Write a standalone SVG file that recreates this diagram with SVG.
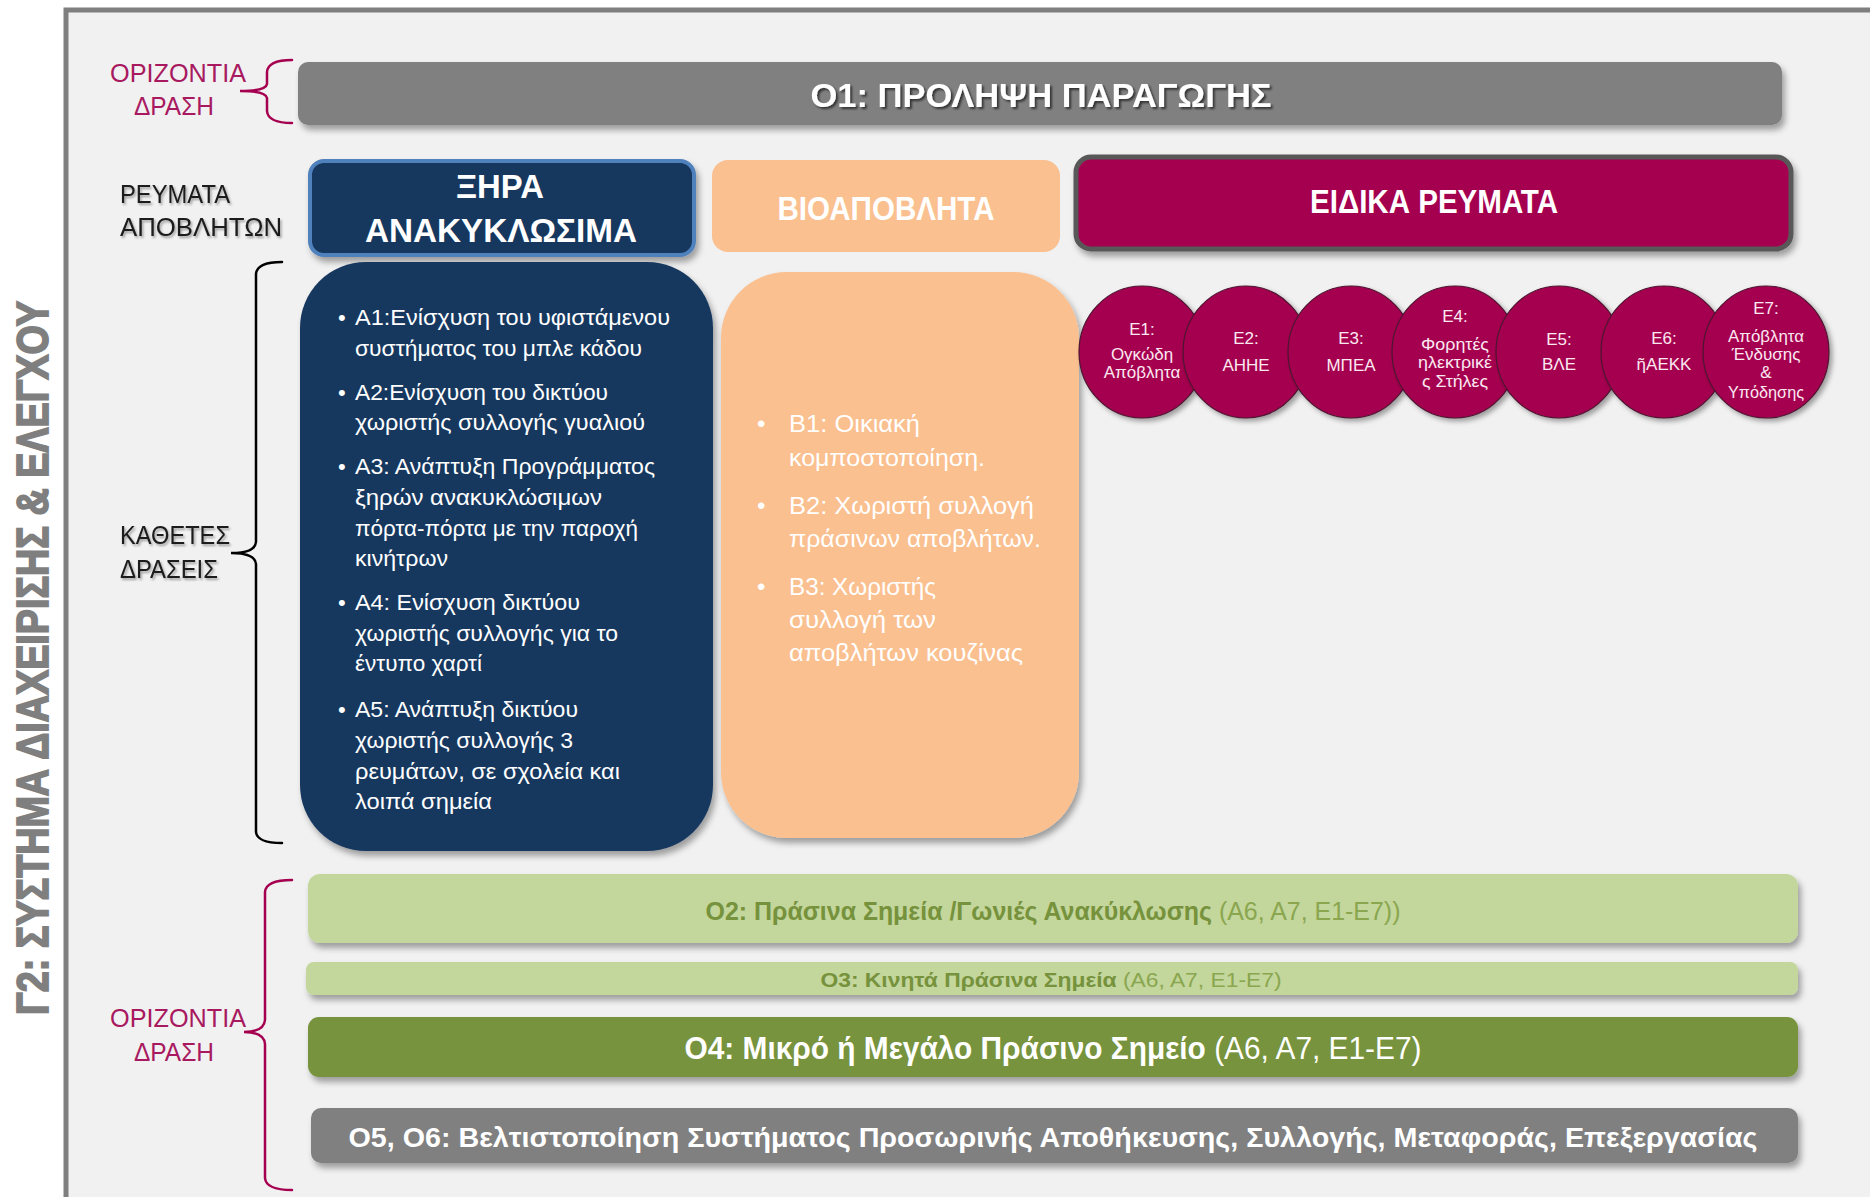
<svg xmlns="http://www.w3.org/2000/svg" width="1870" height="1197" viewBox="0 0 1870 1197">
<defs>
<filter id="sh" x="-10%" y="-20%" width="130%" height="160%">
<feDropShadow dx="3" dy="5" stdDeviation="3" flood-color="#000" flood-opacity="0.35"/>
</filter>
<filter id="csh" x="-20%" y="-20%" width="150%" height="150%">
<feDropShadow dx="3" dy="3" stdDeviation="2.5" flood-color="#000" flood-opacity="0.35"/>
</filter>
<filter id="ts" x="-5%" y="-30%" width="110%" height="170%">
<feDropShadow dx="2" dy="2" stdDeviation="1" flood-color="#000" flood-opacity="0.6"/>
</filter>
<filter id="ls" x="-5%" y="-30%" width="110%" height="170%">
<feDropShadow dx="1.5" dy="2" stdDeviation="1.2" flood-color="#000" flood-opacity="0.35"/>
</filter>
</defs>
<style>
text{font-family:"Liberation Sans",Arial,sans-serif;}
.lbl{font-size:26px;fill:#1a1a1a;}
.pink{font-size:26px;fill:#a8195f;}
.hdr{font-size:34px;font-weight:bold;fill:#ffffff;text-anchor:middle;}
.bul{font-size:22px;fill:#ffffff;}
.bb{font-size:24px;fill:#ffffff;}
.ct{font-size:17px;fill:#fbe9f1;text-anchor:middle;}
.circ{fill:#a50050;stroke:#4d1530;stroke-width:1.2;}
.bar{text-anchor:middle;font-weight:bold;}
.nb{font-weight:normal;}
.brace{fill:none;stroke-width:2.5;stroke-linecap:round;}
</style>

<rect x="0" y="0" width="1870" height="1197" fill="#ffffff"/>
<g id="frame">
<rect x="66" y="10" width="1820" height="1210" fill="#f1f1f1" stroke="#7f7f7f" stroke-width="5"/>
</g>

<g id="title-vertical">
<text transform="translate(48,658) rotate(-90)" text-anchor="middle" font-size="45" font-weight="bold" fill="#7f7f7f" stroke="#7f7f7f" stroke-width="1.8" textLength="714" lengthAdjust="spacingAndGlyphs">Γ2: ΣΥΣΤΗΜΑ ΔΙΑΧΕΙΡΙΣΗΣ &amp; ΕΛΕΓΧΟΥ</text>
</g>

<g id="connectors">
<path class="brace" stroke="#a50050" d="M292,60 Q268,60 267,72 L267,84 Q266,91 240,91 Q266,91 267,98 L267,111 Q268,123 292,123"/>
<path class="brace" stroke="#000000" d="M282,262 Q257,262 256,274 L256,542 Q255,553 231,553 Q255,553 256,564 L256,832 Q257,843 282,843"/>
<path class="brace" stroke="#a50050" d="M292,880 Q266,880 265,892 L265,1020 Q264,1032 244,1032 Q264,1032 265,1044 L265,1178 Q266,1190 292,1190"/>
</g>

<g id="label-horizontal-top">
<text class="pink" x="110" y="82" textLength="136" lengthAdjust="spacingAndGlyphs">ΟΡΙΖΟΝΤΙΑ</text>
<text class="pink" x="134" y="115" textLength="80" lengthAdjust="spacingAndGlyphs">ΔΡΑΣΗ</text>
</g>
<g id="label-streams" filter="url(#ls)">
<text class="lbl" x="120" y="203" textLength="110" lengthAdjust="spacingAndGlyphs">ΡΕΥΜΑΤΑ</text>
<text class="lbl" x="120" y="236" textLength="162" lengthAdjust="spacingAndGlyphs">ΑΠΟΒΛΗΤΩΝ</text>
</g>
<g id="label-vertical" filter="url(#ls)">
<text class="lbl" x="120" y="544" textLength="110" lengthAdjust="spacingAndGlyphs">ΚΑΘΕΤΕΣ</text>
<text class="lbl" x="120" y="578" textLength="98" lengthAdjust="spacingAndGlyphs">ΔΡΑΣΕΙΣ</text>
</g>
<g id="label-horizontal-bottom">
<text class="pink" x="110" y="1027" textLength="136" lengthAdjust="spacingAndGlyphs">ΟΡΙΖΟΝΤΙΑ</text>
<text class="pink" x="134" y="1061" textLength="80" lengthAdjust="spacingAndGlyphs">ΔΡΑΣΗ</text>
</g>

<g id="O1">
<rect x="298" y="62" width="1484" height="63" rx="10" fill="#808080" filter="url(#sh)"/>
<text class="hdr" x="1041" y="107" font-size="33" textLength="461" lengthAdjust="spacingAndGlyphs" filter="url(#ts)">Ο1: ΠΡΟΛΗΨΗ ΠΑΡΑΓΩΓΗΣ</text>
</g>

<g id="header-A">
<rect x="310" y="161" width="384" height="94" rx="14" fill="#17375e" stroke="#4f81bd" stroke-width="4" filter="url(#sh)"/>
<text class="hdr" x="500" y="198" font-size="35" textLength="88" lengthAdjust="spacingAndGlyphs">ΞΗΡΑ</text>
<text class="hdr" x="501" y="242" font-size="35" textLength="272" lengthAdjust="spacingAndGlyphs">ΑΝΑΚΥΚΛΩΣΙΜΑ</text>
</g>

<g id="header-B">
<rect x="712" y="160" width="348" height="92" rx="16" fill="#fac090"/>
<text class="hdr" x="886" y="220" font-size="32" textLength="217" lengthAdjust="spacingAndGlyphs">ΒΙΟΑΠΟΒΛΗΤΑ</text>
</g>

<g id="header-E">
<rect x="1076" y="157" width="715" height="92" rx="15" fill="#a50050" stroke="#595959" stroke-width="5" filter="url(#sh)"/>
<text class="hdr" x="1434" y="213" font-size="30" textLength="248" lengthAdjust="spacingAndGlyphs">ΕΙΔΙΚΑ ΡΕΥΜΑΤΑ</text>
</g>

<g id="box-A">
<rect x="300" y="262" width="413" height="589" rx="66" fill="#17375e" filter="url(#sh)"/>
<text class="bul" x="338" y="325">•</text>
<text class="bul" x="355" y="325" textLength="315" lengthAdjust="spacingAndGlyphs">Α1:Ενίσχυση  του υφιστάμενου</text>
<text class="bul" x="355" y="356" textLength="287" lengthAdjust="spacingAndGlyphs">συστήματος του μπλε κάδου</text>
<text class="bul" x="338" y="400">•</text>
<text class="bul" x="355" y="400" textLength="253" lengthAdjust="spacingAndGlyphs">Α2:Ενίσχυση του δικτύου</text>
<text class="bul" x="355" y="430" textLength="290" lengthAdjust="spacingAndGlyphs">χωριστής συλλογής γυαλιού</text>
<text class="bul" x="338" y="474">•</text>
<text class="bul" x="355" y="474" textLength="300" lengthAdjust="spacingAndGlyphs">Α3: Ανάπτυξη Προγράμματος</text>
<text class="bul" x="355" y="505" textLength="247" lengthAdjust="spacingAndGlyphs">ξηρών ανακυκλώσιμων</text>
<text class="bul" x="355" y="536" textLength="283" lengthAdjust="spacingAndGlyphs">πόρτα-πόρτα με την παροχή</text>
<text class="bul" x="355" y="566" textLength="93" lengthAdjust="spacingAndGlyphs">κινήτρων</text>
<text class="bul" x="338" y="610">•</text>
<text class="bul" x="355" y="610" textLength="225" lengthAdjust="spacingAndGlyphs">Α4: Ενίσχυση  δικτύου</text>
<text class="bul" x="355" y="641" textLength="263" lengthAdjust="spacingAndGlyphs">χωριστής συλλογής για το</text>
<text class="bul" x="355" y="671" textLength="127" lengthAdjust="spacingAndGlyphs">έντυπο χαρτί</text>
<text class="bul" x="338" y="717">•</text>
<text class="bul" x="355" y="717" textLength="223" lengthAdjust="spacingAndGlyphs">Α5: Ανάπτυξη δικτύου</text>
<text class="bul" x="355" y="748" textLength="218" lengthAdjust="spacingAndGlyphs">χωριστής συλλογής 3</text>
<text class="bul" x="355" y="779" textLength="265" lengthAdjust="spacingAndGlyphs">ρευμάτων, σε σχολεία και</text>
<text class="bul" x="355" y="809" textLength="137" lengthAdjust="spacingAndGlyphs">λοιπά σημεία</text>
</g>

<g id="box-B">
<rect x="721" y="272" width="358" height="566" rx="66" fill="#fac090" filter="url(#sh)"/>
<text class="bb" x="757" y="432">•</text>
<text class="bb" x="789" y="432" textLength="131" lengthAdjust="spacingAndGlyphs">Β1: Οικιακή</text>
<text class="bb" x="789" y="466" textLength="196" lengthAdjust="spacingAndGlyphs">κομποστοποίηση.</text>
<text class="bb" x="757" y="514">•</text>
<text class="bb" x="789" y="514" textLength="245" lengthAdjust="spacingAndGlyphs">Β2: Χωριστή συλλογή</text>
<text class="bb" x="789" y="547" textLength="252" lengthAdjust="spacingAndGlyphs">πράσινων αποβλήτων.</text>
<text class="bb" x="757" y="595">•</text>
<text class="bb" x="789" y="595" textLength="147" lengthAdjust="spacingAndGlyphs">Β3: Χωριστής</text>
<text class="bb" x="789" y="628" textLength="147" lengthAdjust="spacingAndGlyphs">συλλογή των</text>
<text class="bb" x="789" y="661" textLength="234" lengthAdjust="spacingAndGlyphs">αποβλήτων κουζίνας</text>
</g>

<g id="E1">
<ellipse class="circ" cx="1142" cy="352" rx="63" ry="66" filter="url(#csh)"/>
<text class="ct" x="1142" y="335">Ε1:</text>
<text class="ct" x="1142" y="360">Ογκώδη</text>
<text class="ct" x="1142" y="378">Απόβλητα</text>
</g>
<g id="E2">
<ellipse class="circ" cx="1246" cy="352" rx="63" ry="66" filter="url(#csh)"/>
<text class="ct" x="1246" y="344">Ε2:</text>
<text class="ct" x="1246" y="371">ΑΗΗΕ</text>
</g>
<g id="E3">
<ellipse class="circ" cx="1351" cy="352" rx="63" ry="66" filter="url(#csh)"/>
<text class="ct" x="1351" y="344">Ε3:</text>
<text class="ct" x="1351" y="371">ΜΠΕΑ</text>
</g>
<g id="E4">
<ellipse class="circ" cx="1455" cy="352" rx="63" ry="66" filter="url(#csh)"/>
<text class="ct" x="1455" y="322">Ε4:</text>
<text class="ct" x="1455" y="350" textLength="68" lengthAdjust="spacingAndGlyphs">Φορητές</text>
<text class="ct" x="1455" y="368" textLength="74" lengthAdjust="spacingAndGlyphs">ηλεκτρικέ</text>
<text class="ct" x="1455" y="387" textLength="66" lengthAdjust="spacingAndGlyphs">ς Στήλες</text>
</g>
<g id="E5">
<ellipse class="circ" cx="1559" cy="352" rx="63" ry="66" filter="url(#csh)"/>
<text class="ct" x="1559" y="345">Ε5:</text>
<text class="ct" x="1559" y="370">ΒΛΕ</text>
</g>
<g id="E6">
<ellipse class="circ" cx="1664" cy="352" rx="63" ry="66" filter="url(#csh)"/>
<text class="ct" x="1664" y="344">Ε6:</text>
<text class="ct" x="1664" y="370">ῆΑΕΚΚ</text>
</g>
<g id="E7">
<ellipse class="circ" cx="1766" cy="352" rx="63" ry="66" filter="url(#csh)"/>
<text class="ct" x="1766" y="314">Ε7:</text>
<text class="ct" x="1766" y="342" textLength="76" lengthAdjust="spacingAndGlyphs">Απόβλητα</text>
<text class="ct" x="1766" y="360">Ένδυσης</text>
<text class="ct" x="1766" y="378">&amp;</text>
<text class="ct" x="1766" y="398" textLength="76" lengthAdjust="spacingAndGlyphs">Υπόδησης</text>
</g>

<g id="O2">
<rect x="308" y="874" width="1490" height="69" rx="12" fill="#c3d69b" filter="url(#sh)"/>
<text class="bar" x="1053" y="920" font-size="25" fill="#76923c" textLength="695" lengthAdjust="spacingAndGlyphs">Ο2: Πράσινα Σημεία /Γωνιές Ανακύκλωσης<tspan class="nb" fill="#8aa64f"> (Α6, Α7, Ε1-Ε7))</tspan></text>
</g>
<g id="O3">
<rect x="306" y="962" width="1492" height="33" rx="8" fill="#c3d69b" filter="url(#sh)"/>
<text class="bar" x="1051" y="987" font-size="21" fill="#76923c" textLength="461" lengthAdjust="spacingAndGlyphs">Ο3: Κινητά Πράσινα Σημεία<tspan class="nb" fill="#8aa64f"> (Α6, Α7, Ε1-Ε7)</tspan></text>
</g>
<g id="O4">
<rect x="308" y="1017" width="1490" height="60" rx="11" fill="#77933c" filter="url(#sh)"/>
<text class="bar" x="1053" y="1059" font-size="31" fill="#ffffff" textLength="737" lengthAdjust="spacingAndGlyphs">Ο4: Μικρό ή Μεγάλο Πράσινο Σημείο<tspan class="nb"> (Α6, Α7, Ε1-Ε7)</tspan></text>
</g>
<g id="O5">
<rect x="311" y="1108" width="1487" height="55" rx="10" fill="#808080" filter="url(#sh)"/>
<text class="bar" x="1053" y="1147" font-size="28" fill="#ffffff" textLength="1409" lengthAdjust="spacingAndGlyphs">Ο5, Ο6: Βελτιστοποίηση Συστήματος Προσωρινής Αποθήκευσης, Συλλογής, Μεταφοράς, Επεξεργασίας</text>
</g>
</svg>
